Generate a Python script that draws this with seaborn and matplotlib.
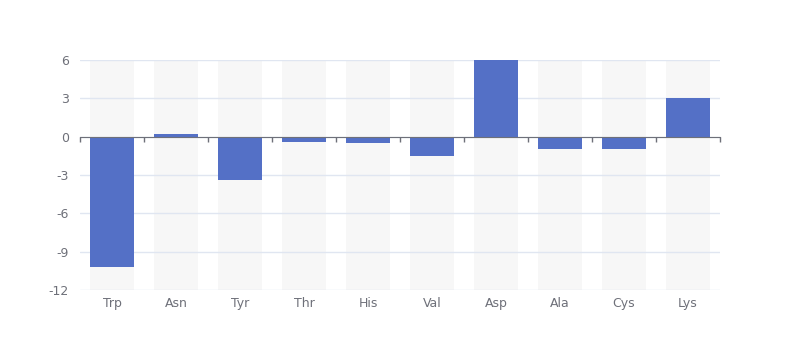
import matplotlib
matplotlib.use("Agg")
import matplotlib.pyplot as plt
import seaborn as sns
import pandas as pd
import numpy as np

# Data
amino_acids = ["Trp", "Asn", "Tyr", "Thr", "His", "Val", "Asp", "Ala", "Cys", "Lys"]
values = [-10.2, 0.2, -3.4, -0.4, -0.5, -1.5, 6, -1, -1, 3]
y_ticks = [-12, -9, -6, -3, 0, 3, 6]

y_min, y_max = y_ticks[0], y_ticks[-1]
bar_color = "#5470C6"
bg_color = "#F7F7F7"
label_color = "#6E7079"
grid_color = "#E0E6F1"

sns.set_style("white")
plt.rcParams["font.family"] = ["DejaVu Sans"]
plt.rcParams["axes.unicode_minus"] = False

df = pd.DataFrame({"acid": amino_acids, "value": values})

fig = plt.figure(figsize=(8, 3.6), dpi=100)
ax = fig.add_axes([0.1, 0.1944, 0.8, 0.6389])

# background columns spanning the full value range
bg_top = pd.DataFrame({"acid": amino_acids, "value": [y_max] * len(amino_acids)})
bg_bot = pd.DataFrame({"acid": amino_acids, "value": [y_min] * len(amino_acids)})
for bg in (bg_top, bg_bot):
    sns.barplot(data=bg, x="acid", y="value", color=bg_color, width=0.69,
                saturation=1, linewidth=0, ax=ax, zorder=1)

# actual values
sns.barplot(data=df, x="acid", y="value", color=bar_color, width=0.69,
            saturation=1, linewidth=0, ax=ax, zorder=3)

ax.set_ylim(y_min, y_max)
ax.set_xlim(-0.5, len(amino_acids) - 0.5)
ax.set_yticks(y_ticks)
ax.set_xlabel("")
ax.set_ylabel("")
for s in ax.spines.values():
    s.set_visible(False)
ax.set_axisbelow(False)
ax.yaxis.grid(True, color=grid_color, linewidth=1)
for gl in ax.get_ygridlines():
    gl.set_zorder(2)
ax.tick_params(axis="both", length=0, labelsize=9, labelcolor=label_color)
ax.tick_params(axis="x", pad=5)
ax.tick_params(axis="y", pad=8)

# axis line at zero with ticks between categories
zero_frac = (0 - y_min) / (y_max - y_min)
sec = ax.secondary_xaxis(zero_frac)
sec.set_zorder(5)
sec.set_xticks(np.arange(-0.5, len(amino_acids), 1.0))
sec.set_xticklabels([])
sec.tick_params(axis="x", which="both", top=False, bottom=True,
                labeltop=False, labelbottom=False,
                direction="out", length=3.6, color=label_color, width=1)
for s in sec.spines.values():
    s.set_color(label_color)

fig.savefig("out.png", dpi=100)
